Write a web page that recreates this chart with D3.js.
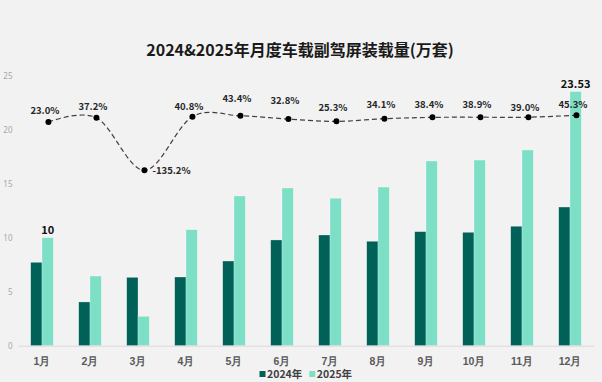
<!DOCTYPE html>
<html>
<head>
<meta charset="utf-8">
<script src="https://cdn.jsdelivr.net/npm/d3@7"></script>
<style>
  html, body { margin: 0; padding: 0; background: #f2f2f2; }
  svg { display: block; font-family: "Noto Sans CJK SC", "Noto Sans", sans-serif; }
</style>
</head>
<body>
<div id="chart"></div>
<script>
const months = ["1月","2月","3月","4月","5月","6月","7月","8月","9月","10月","11月","12月"];
const series = ["2024年","2025年"];
const values2024 = [7.72, 4.05, 6.33, 6.36, 7.84, 9.79, 10.25, 9.67, 10.56, 10.5, 11.06, 12.84];
const values2025 = [10, 6.45, 2.72, 10.74, 13.86, 14.6, 13.65, 14.69, 17.1, 17.19, 18.12, 23.53];
const growth = [23.0, 37.2, -135.2, 40.8, 43.4, 32.8, 25.3, 34.1, 38.4, 38.9, 39.0, 45.3];
const yTicks = [0, 5, 10, 15, 20, 25];
const labelledBars = [0, 11]; // months whose 2025 bar carries a value label

// layout only: how far each growth label sits above its point (px)
const labelLift = [11, 11, 0, 10, 17, 18, 14, 14, 13, 13, 10, 11];

const W = 602, H = 382;
const colors = {"2024年": "#006159", "2025年": "#7ddfc5"};

const svg = d3.select("#chart").append("svg")
  .attr("width", W).attr("height", H);

svg.append("rect").attr("width", W).attr("height", H).attr("fill", "#f2f2f2");

// Title
svg.append("text")
  .attr("x", 300).attr("y", 55.5)
  .attr("text-anchor", "middle")
  .attr("font-size", 16).attr("font-weight", "bold")
  .attr("fill", "#1a1a1a")
  .text("2024&2025年月度车载副驾屏装载量(万套)");

const x = d3.scaleBand().domain(months).range([18, 594]).paddingInner(0.53).paddingOuter(0.265);
const x1 = d3.scaleBand().domain(series).range([0, x.bandwidth()]);
const y = d3.scaleLinear().domain([0, 25]).range([345.7, 75.7]);
const y2 = d3.scaleLinear().domain([-710, 175]).range([345.7, 75.7]);

// Y axis
const yAxis = svg.append("g")
  .attr("transform", "translate(15.5,0)")
  .call(d3.axisLeft(y).tickValues(yTicks).tickSize(0).tickPadding(3));
yAxis.select(".domain").remove();
yAxis.selectAll("text").attr("font-size", 8).attr("fill", "#a6a6a6")
  .attr("font-family", "'Noto Sans', sans-serif");

// Bars
const rows = months.map((m, i) => ({m, i, vals: [{s: "2024年", v: values2024[i]}, {s: "2025年", v: values2025[i]}]}));
const groups = svg.append("g").selectAll("g").data(rows).join("g")
  .attr("transform", d => `translate(${x(d.m)},0)`);
groups.selectAll("rect").data(d => d.vals).join("rect")
  .attr("x", d => x1(d.s))
  .attr("y", d => y(d.v))
  .attr("width", x1.bandwidth())
  .attr("height", d => y(0) - y(d.v))
  .attr("fill", d => colors[d.s])
  .attr("stroke", "#ffffff").attr("stroke-opacity", 0.45).attr("stroke-width", 0.6);

// X axis
const xAxis = svg.append("g")
  .attr("transform", `translate(0,${y(0)})`)
  .call(d3.axisBottom(x).tickSize(0).tickSizeOuter(0).tickPadding(12));
xAxis.select(".domain").attr("stroke", "#d9d9d9").attr("stroke-width", 1);
xAxis.selectAll("text").attr("font-size", 10.5).attr("font-weight", "bold").attr("fill", "#595959");

// Bar value labels
svg.append("g").selectAll("text").data(labelledBars).join("text")
  .attr("x", i => x(months[i]) + x1("2025年") + x1.bandwidth() / 2)
  .attr("y", i => y(values2025[i]) - 4)
  .attr("text-anchor", "middle")
  .attr("font-size", 11).attr("font-weight", "bold").attr("fill", "#111")
  .text(i => d3.format("~r")(values2025[i]));

// Growth line
const px = i => x(months[i]) + x1("2025年") + x1.bandwidth() / 2 + 0.8;
const line = d3.line()
  .x((d, i) => px(i))
  .y(d => y2(d))
  .curve(d3.curveCardinal.tension(0));
svg.append("path")
  .datum(growth)
  .attr("d", line)
  .attr("fill", "none")
  .attr("stroke", "#404040")
  .attr("stroke-width", 1.2)
  .attr("stroke-dasharray", "5,3");

svg.append("g").selectAll("circle").data(growth).join("circle")
  .attr("cx", (d, i) => px(i))
  .attr("cy", d => y2(d))
  .attr("r", 3)
  .attr("fill", "#000");

svg.append("g").selectAll("text").data(growth).join("text")
  .attr("x", (d, i) => d < 0 ? px(i) + 8 : px(i) - 3.5)
  .attr("y", (d, i) => y2(d) - labelLift[i])
  .attr("dy", "0.35em")
  .attr("text-anchor", d => d < 0 ? "start" : "middle")
  .attr("font-size", 9.5).attr("font-weight", "bold").attr("fill", "#262626")
  .text(d => d.toFixed(1) + "%");

// Legend
const legendX = [259.5, 309.3];
const legend = svg.append("g").selectAll("g").data(series).join("g")
  .attr("transform", (d, i) => `translate(${legendX[i]},374)`);
legend.append("rect").attr("x", 0).attr("y", -3).attr("width", 6).attr("height", 6)
  .attr("fill", d => colors[d]);
legend.append("text").attr("x", 7.5).attr("y", 0).attr("dy", "0.36em")
  .attr("font-size", 10.5).attr("font-weight", "bold").attr("fill", "#404040")
  .text(d => d);
</script>
</body>
</html>
